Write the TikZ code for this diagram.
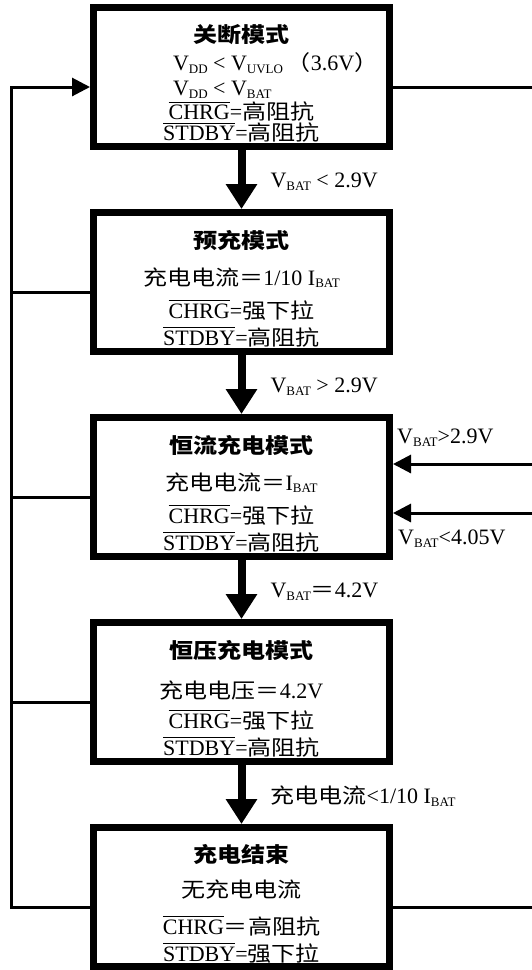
\documentclass[tikz,border=0pt]{standalone}
\usepackage{amsmath}
\usepackage{fontspec}
\setmainfont{Liberation Serif}
\newfontfamily\cjk{Noto Sans CJK SC}[Scale=0.95,FakeStretch=1.15]
\usetikzlibrary{positioning,arrows.meta}
\newcommand\zh[1]{{\cjk #1}}
\newcommand\lowidx[1]{\raisebox{-0.12em}{\fontsize{13}{13}\selectfont #1}}
\newcommand\ovl[1]{$\overline{\mbox{#1}}$}
\newcommand\ttl[1]{\rule{0pt}{31pt}{\cjk\bfseries #1}}

\begin{document}
\begin{tikzpicture}[x=1pt,y=1pt]
\tikzset{modebox/.style={draw,line width=7pt,minimum width=296pt,minimum height=139pt,
    inner sep=0pt,align=center,font=\fontsize{22}{24}\selectfont}}
\tikzset{bigarrow/.style={line width=8pt,-{Triangle[length=25pt,width=30pt]}}}
\tikzset{wire/.style={line width=3pt}}
\tikzset{wirearrow/.style={wire,-{Triangle[length=18pt,width=18pt]}}}
\tikzset{lbl/.style={inner sep=0pt,font=\fontsize{22}{24}\selectfont}}
\useasboundingbox (0,0) rectangle (532,-970);
\node[modebox] (off) at (241.5,-77) {\ttl{关断模式}\\[4pt]
  \makebox[137pt][l]{V\lowidx{DD} < V\lowidx{UVLO}\,\zh{（}3.6V\zh{）}}\\[1pt]
  \makebox[137pt][l]{V\lowidx{DD} < V\lowidx{BAT}}\\[0pt]
  \ovl{CHRG}=\zh{高阻抗}\\[-3pt]
  \ovl{STDBY}=\zh{高阻抗}};
\node[modebox,below=59pt of off] (pre) {\ttl{预充模式}\\[13pt]
  \zh{充电电流＝}1/10 I\lowidx{BAT}\\[9pt]
  \ovl{CHRG}=\zh{强下拉}\\[3pt]
  \ovl{STDBY}=\zh{高阻抗}};
\node[modebox,below=59pt of pre] (cc) {\ttl{恒流充电模式}\\[13pt]
  \zh{充电电流＝}I\lowidx{BAT}\\[9pt]
  \ovl{CHRG}=\zh{强下拉}\\[3pt]
  \ovl{STDBY}=\zh{高阻抗}};
\node[modebox,below=59pt of cc] (cv) {\ttl{恒压充电模式}\\[16pt]
  \zh{充电电压＝}4.2V\\[6pt]
  \ovl{CHRG}=\zh{强下拉}\\[3pt]
  \ovl{STDBY}=\zh{高阻抗}};
\node[modebox,below=59pt of cv] (done) {\ttl{充电结束}\\[11pt]
  \zh{无充电电流}\\[13pt]
  \ovl{CHRG}\zh{＝高阻抗}\\[3pt]
  \ovl{STDBY}=\zh{强下拉}};
% state changes
\draw[bigarrow] (off.south) -- node[lbl,right=25pt,yshift=-2pt] (toff) {V\lowidx{BAT} < 2.9V} (pre.north);
\draw[bigarrow] (pre.south) -- node[lbl,right=25pt,yshift=-2pt] (tpre) {V\lowidx{BAT} > 2.9V} (cc.north);
\draw[bigarrow] (cc.south) -- node[lbl,right=25pt,yshift=-2pt] (tcc) {V\lowidx{BAT}\zh{＝}4.2V} (cv.north);
\draw[bigarrow] (cv.south) -- node[lbl,right=25pt,yshift=-2pt] (tcv) {\zh{充电电流}<1/10 I\lowidx{BAT}} (done.north);
% rails
\coordinate (lrail) at (11.5,0);
\coordinate (rrail) at (532,0);
\coordinate (offin) at ([yshift=-10pt]off.west);
\coordinate (doneout) at ([yshift=-10pt]done.west);
\draw[wirearrow] (doneout) -| (lrail |- offin) -- (offin);
\foreach \b in {pre,cc,cv}
  \draw[wire] ([yshift=-10pt]\b.west) coordinate (tap) -- (tap -| lrail);
\draw[wire] ([yshift=-10pt]off.east) coordinate (tap) -- (tap -| rrail);
\draw[wire] ([yshift=-10pt]done.east) coordinate (tap) -- (tap -| rrail);
\coordinate (cchi) at ([yshift=23pt]cc.east);
\coordinate (cclo) at ([yshift=-26pt]cc.east);
\draw[wirearrow] (cchi -| rrail) -- (cchi);
\draw[wirearrow] (cclo -| rrail) -- (cclo);
\node[lbl,anchor=west] (thi) at ([shift={(4pt,26pt)}]cchi) {V\lowidx{BAT}>2.9V};
\node[lbl,anchor=west] (tlo) at ([shift={(5pt,-26pt)}]cclo) {V\lowidx{BAT}<4.05V};
\end{tikzpicture}
\end{document}
